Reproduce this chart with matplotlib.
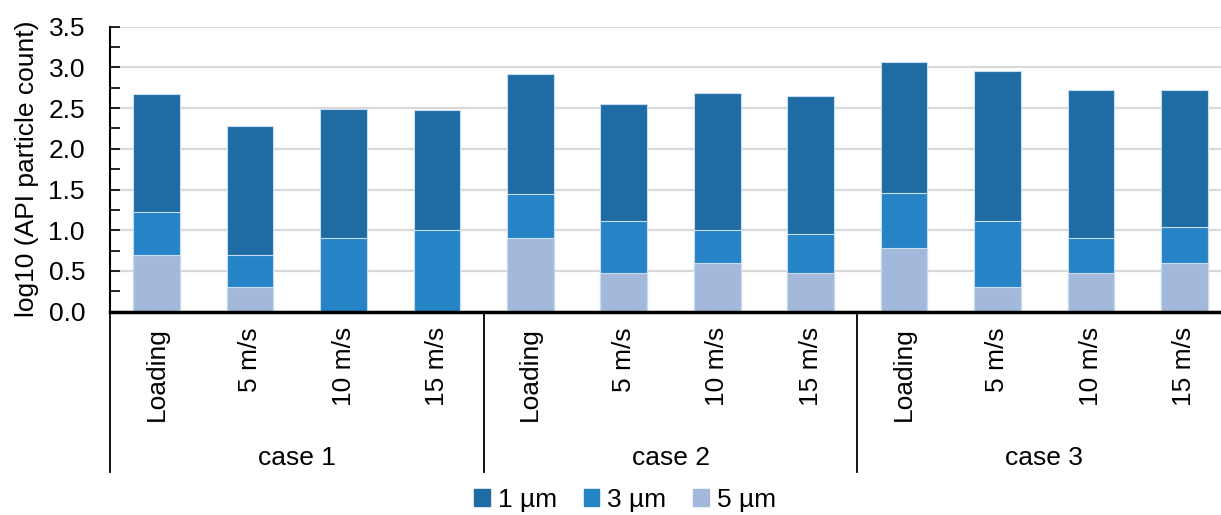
import matplotlib
matplotlib.use("Agg")
import matplotlib.pyplot as plt
from matplotlib.lines import Line2D
import matplotlib.transforms as mtransforms
import numpy as np

plt.rcParams['font.family'] = ['Liberation Sans', 'DejaVu Sans']

cases = ["case 1", "case 2", "case 3"]
conditions = ["Loading", "5 m/s", "10 m/s", "15 m/s"]

# log10 particle counts per size class, ordered case 1..3, each Loading/5/10/15 m/s
size_1um = [2.67, 2.28, 2.49, 2.48, 2.92, 2.55, 2.68, 2.65, 3.07, 2.96, 2.72, 2.72]
size_3um = [1.23, 0.70, 0.90, 1.00, 1.45, 1.11, 1.00, 0.95, 1.46, 1.11, 0.90, 1.04]
size_5um = [0.70, 0.30, 0.00, 0.00, 0.90, 0.47, 0.60, 0.47, 0.78, 0.30, 0.47, 0.60]

series_labels = ["1 µm", "3 µm", "5 µm"]
colors = ["#1E6CA3", "#2683C6", "#A3B9DB"]

FS = 19

fig = plt.figure(figsize=(12.21, 5.15), dpi=100)
W, H = 1221, 515
x0, x1 = 110, 1231
y_top, y_bot = 26.7, 311.7
ax = fig.add_axes([x0 / W, 1 - y_bot / H, (x1 - x0) / W, (y_bot - y_top) / H])

n = len(cases) * len(conditions)
x = np.arange(n)
for vals, col in zip([size_1um, size_3um, size_5um], colors):
    ax.bar(x, vals, width=0.5, color=col, edgecolor="#C9DDF0", linewidth=0.8, zorder=3)

ax.set_xlim(-0.5, n - 0.5)
ax.set_ylim(0, 3.5)
ax.set_yticks(np.arange(0, 3.51, 0.5))
ax.set_yticks(np.arange(0.25, 3.5, 0.5), minor=True)
ax.set_yticklabels([f"{v:.1f}" for v in np.arange(0, 3.51, 0.5)], fontsize=FS)
ax.tick_params(axis="y", which="both", direction="in", length=7, width=1.2, pad=18)
ax.yaxis.grid(True, color="#D9D9D9", linewidth=1.6, zorder=0)
ax.set_axisbelow(True)

labels = conditions * len(cases)
ax.set_xticks(x)
ax.set_xticklabels(labels, rotation=90, fontsize=FS, va="top", ha="center")
ax.tick_params(axis="x", length=0, pad=11)

for s in ["top", "right"]:
    ax.spines[s].set_visible(False)
ax.spines["left"].set_linewidth(1.5)
ax.spines["bottom"].set_linewidth(2.5)
ax.spines["bottom"].set_zorder(5)

ax.set_ylabel("log10 (API particle count)", fontsize=FS)
ax.yaxis.set_label_coords(-(110 - 39) / (x1 - x0), 0.5)

# second-level category axis: group separators and case names
trans = mtransforms.blended_transform_factory(ax.transData, ax.transAxes)
line_bottom = -(472 - 311.7) / (y_bot - y_top)
for b in [-0.5, 3.5, 7.5]:
    ax.add_line(Line2D([b, b], [0, line_bottom], transform=trans, color="black",
                       linewidth=1.3, clip_on=False))
label_y = -(458 - 311.7) / (y_bot - y_top)
for i, c in enumerate(cases):
    ax.text(i * 4 + 1.5, label_y, c, transform=trans, ha="center", va="center",
            fontsize=FS)

handles = [plt.Rectangle((0, 0), 1, 1, color=c) for c in colors]
fig.legend(handles, series_labels, loc="center", bbox_to_anchor=(625 / W, 1 - 500 / H),
           ncol=3, frameon=False, fontsize=FS, handlelength=0.6, handleheight=0.6,
           handletextpad=0.3, columnspacing=1.0, borderpad=0, borderaxespad=0)

fig.savefig("out.png", dpi=100)
